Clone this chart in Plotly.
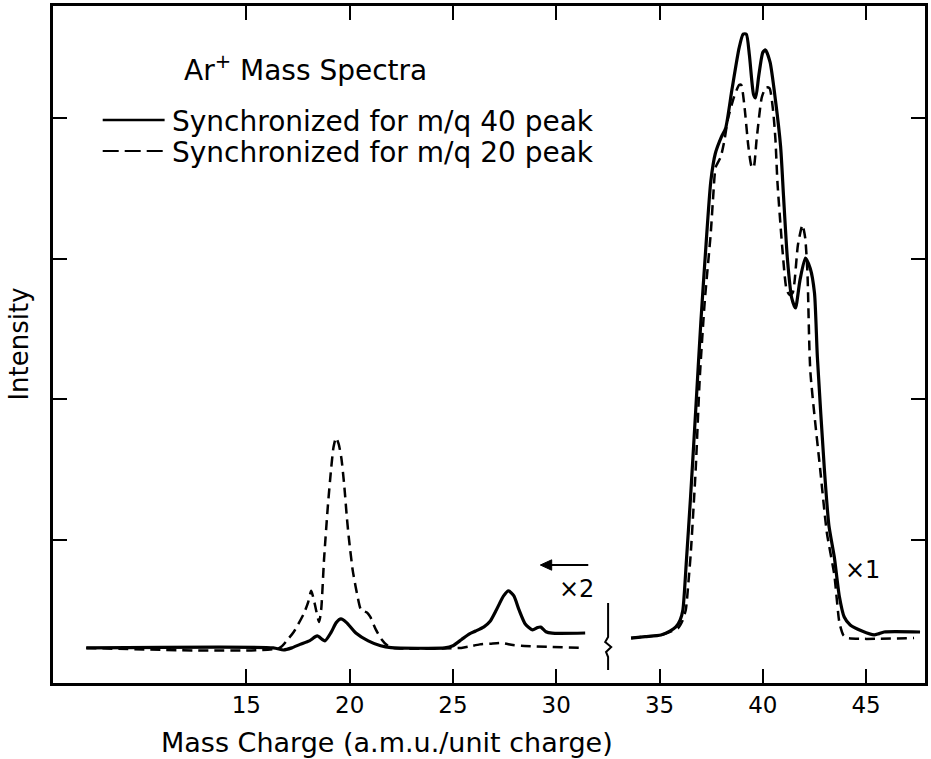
import plotly.graph_objects as go

# ---------------- data (m/q, intensity in arbitrary units) ----------------
# low-mass section (shown x2)
solid_left_x = [7.25, 16.3, 16.8, 17.2, 17.6, 18.05, 18.43, 18.8, 19.1, 19.35, 19.58, 19.85, 20.3, 20.9,
                21.5, 22.0, 24.6, 25.0, 25.42, 25.8, 26.1, 26.5, 26.8, 27.1, 27.45, 27.69, 27.95, 28.2,
                28.5, 28.85, 29.1, 29.25, 29.5, 29.8, 31.4]
solid_left_y = [0.23, 0.23, 0.215, 0.23, 0.255, 0.28, 0.315, 0.28, 0.34, 0.41, 0.436, 0.41, 0.336, 0.28,
                0.245, 0.232, 0.23, 0.245, 0.29, 0.33, 0.35, 0.38, 0.42, 0.50, 0.60, 0.636, 0.60, 0.50,
                0.40, 0.358, 0.375, 0.378, 0.345, 0.335, 0.336]

dashed_left_x = [7.25, 16.6, 17.0, 17.3, 17.8, 18.0, 18.14, 18.3, 18.52, 18.62, 18.76, 18.95, 19.1, 19.22,
                 19.34, 19.47, 19.6, 19.73, 19.87, 19.97, 20.15, 20.35, 20.55, 20.7, 20.85, 21.0, 21.27,
                 21.55, 21.8, 22.05, 25.4, 25.8, 26.3, 26.8, 27.35, 27.9, 28.3, 31.2]
dashed_left_y = [0.23, 0.23, 0.29, 0.345, 0.48, 0.56, 0.636, 0.55, 0.415, 0.50, 0.86, 1.25, 1.50, 1.66,
                 1.726, 1.68, 1.58, 1.40, 1.15, 1.00, 0.78, 0.62, 0.50, 0.49, 0.48, 0.45, 0.36,
                 0.29, 0.25, 0.23, 0.23, 0.24, 0.255, 0.26, 0.265, 0.25, 0.245, 0.23]

# Ar+ section (shown x1)
solid_right_x = [33.62, 34.3, 35.07, 35.5, 35.79, 36.0, 36.13, 36.3, 36.5, 36.75, 37.0, 37.25, 37.48, 37.7,
                 38.0, 38.2, 38.5, 38.85, 39.05, 39.2, 39.35, 39.55, 39.65, 39.8, 40.0, 40.13, 40.35,
                 40.61, 40.86, 41.0, 41.19, 41.4, 41.58, 41.8, 42.06, 42.3, 42.5, 42.64, 42.98, 43.2,
                 43.46, 43.7, 43.94, 44.23, 44.8, 45.39, 45.6, 45.87, 47.61]
solid_right_y = [0.30, 0.31, 0.322, 0.35, 0.379, 0.43, 0.50, 0.85, 1.30, 1.92, 2.55, 3.10, 3.55, 3.75,
                 3.87, 3.93, 4.20, 4.50, 4.60, 4.60, 4.45, 4.17, 4.145, 4.30, 4.47, 4.487, 4.40,
                 4.131, 3.80, 3.45, 3.00, 2.72, 2.65, 2.85, 3.006, 2.93, 2.757, 2.30, 1.50, 1.10,
                 0.877, 0.60, 0.45, 0.393, 0.35, 0.322, 0.33, 0.343, 0.343]

dashed_right_x = [33.62, 34.3, 35.07, 35.6, 35.89, 36.1, 36.27, 36.4, 36.51, 36.75, 36.95, 37.19, 37.48,
                  37.6, 37.72, 37.96, 38.15, 38.3, 38.6, 38.85, 38.95, 39.1, 39.3, 39.45, 39.55, 39.7,
                  39.95, 40.15, 40.32, 40.5, 40.61, 40.71, 40.95, 41.15, 41.3, 41.45, 41.7, 41.92, 42.05,
                  42.16, 42.3, 42.78, 43.1, 43.46, 43.71, 43.9, 44.09, 47.32]
dashed_right_y = [0.30, 0.31, 0.322, 0.35, 0.37, 0.42, 0.50, 0.70, 0.90, 1.50, 2.159, 2.70, 3.184,
                  3.45, 3.654, 3.725, 3.85, 3.988, 4.15, 4.237, 4.24, 4.10, 3.80, 3.66, 3.647, 3.85,
                  4.15, 4.22, 4.216, 4.05, 3.85, 3.54, 3.063, 2.78, 2.742, 2.76, 3.10, 3.241, 3.15,
                  2.90, 2.20, 1.496, 1.05, 0.75, 0.407, 0.32, 0.30, 0.30]

x_tickvals = [15, 20, 25, 30, 35, 40, 45]
x_ticktext = ["15", "20", "25", "30", "35", "40", "45"]
y_tickvals = [1, 2, 3, 4]

title_text = "Ar<sup>+</sup> Mass Spectra"
legend_solid = "Synchronized for m/q 40 peak"
legend_dashed = "Synchronized for m/q 20 peak"
x_title = "Mass Charge (a.m.u./unit charge)"
y_title = "Intensity"

FONT = "DejaVu Sans"
INK = "black"

fig = go.Figure()
solid = dict(color=INK, width=3.2)
dashed = dict(color=INK, width=2.5, dash="10px,6px")
for xs, ys, ln in [(solid_left_x, solid_left_y, solid), (dashed_left_x, dashed_left_y, dashed),
                   (solid_right_x, solid_right_y, solid), (dashed_right_x, dashed_right_y, dashed)]:
    fig.add_trace(go.Scatter(x=xs, y=ys, mode="lines", line=dict(shape="spline", smoothing=0.6, **ln),
                             showlegend=False, hoverinfo="skip"))

fig.update_layout(
    width=931, height=759,
    margin=dict(l=53, r=3, t=6, b=76),
    paper_bgcolor="white", plot_bgcolor="white",
    font=dict(family=FONT, color=INK, size=24),
    showlegend=False,
)
fig.update_xaxes(range=[5.64, 47.85], tickvals=x_tickvals, ticktext=x_ticktext,
                 showline=True, linecolor=INK, linewidth=2.5, mirror="allticks",
                 ticks="inside", ticklen=14, tickwidth=2, tickcolor=INK,
                 showgrid=False, zeroline=False, tickfont=dict(size=23, family=FONT))
fig.update_yaxes(range=[-0.02, 4.8], tickvals=y_tickvals, showticklabels=False,
                 showline=True, linecolor=INK, linewidth=2.5, mirror="allticks",
                 ticks="inside", ticklen=14, tickwidth=2, tickcolor=INK,
                 showgrid=False, zeroline=False)

# axis titles
fig.add_annotation(text=x_title, xref="paper", yref="paper", x=0.383, y=-0.088,
                   xanchor="center", yanchor="middle", showarrow=False, font=dict(size=27))
fig.add_annotation(text=y_title, xref="paper", yref="paper", x=-0.04, y=0.5, textangle=-90,
                   xanchor="center", yanchor="middle", showarrow=False, font=dict(size=26))

# key
fig.add_annotation(text=title_text, xref="paper", yref="paper", x=0.1474, y=0.907,
                   xanchor="left", yanchor="middle", showarrow=False, font=dict(size=28))
fig.add_annotation(text=legend_solid, xref="paper", yref="paper", x=0.134, y=0.830,
                   xanchor="left", yanchor="middle", showarrow=False, font=dict(size=28))
fig.add_annotation(text=legend_dashed, xref="paper", yref="paper", x=0.134, y=0.784,
                   xanchor="left", yanchor="middle", showarrow=False, font=dict(size=28))
fig.add_shape(type="line", xref="paper", yref="paper", x0=0.057, x1=0.128, y0=0.8316, y1=0.8316,
              line=dict(color=INK, width=2.6))
fig.add_shape(type="line", xref="paper", yref="paper", x0=0.057, x1=0.128, y0=0.7858, y1=0.7858,
              line=dict(color=INK, width=2.2, dash="16px,6px"))

# scale notes
fig.add_annotation(text="×2", x=30.97, y=0.649, xref="x", yref="y", showarrow=False,
                   font=dict(size=24))
fig.add_annotation(text="×1", x=44.81, y=0.785, xref="x", yref="y", showarrow=False,
                   font=dict(size=24))
# arrow (pointing to the low-mass section)
fig.add_shape(type="line", xref="x", yref="y", x0=31.55, x1=29.6, y0=0.82, y1=0.82,
              line=dict(color=INK, width=2))
fig.add_shape(type="path", xref="x", yref="y",
              path="M 29.23,0.82 L 29.78,0.857 L 29.78,0.783 Z",
              fillcolor=INK, line=dict(color=INK, width=1))
# break mark
fig.add_shape(type="path", xref="x", yref="y",
              path="M 32.51,0.55 L 32.51,0.3075 L 32.37,0.272 L 32.66,0.236 L 32.41,0.2007 "
                   "L 32.51,0.165 L 32.51,0.0725",
              line=dict(color=INK, width=2))

fig.write_html("out.html")
